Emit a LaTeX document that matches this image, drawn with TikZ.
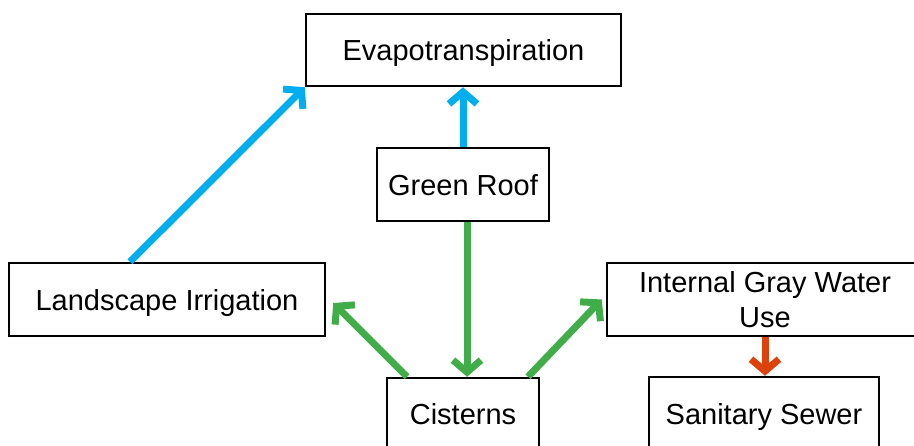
\documentclass[tikz,border=0pt]{standalone}
\usepackage{fontspec}
\setmainfont{Liberation Sans}
\usetikzlibrary{arrows.meta}
\definecolor{flowblue}{RGB}{0,174,239}
\definecolor{flowgreen}{RGB}{64,173,73}
\definecolor{flowred}{RGB}{221,65,12}
\tikzset{
  box/.style={draw=black, line width=2.5pt, inner sep=0pt, align=center,
    font=\fontsize{29}{35}\selectfont},
  oneline/.style={text height=21pt, text depth=0pt},
  flow/.style={line width=7pt, -{Straight Barb[length=12pt,width=28pt,line cap=butt]}},
}
\begin{document}
\begin{tikzpicture}[x=1pt,y=-1pt]
\useasboundingbox (0,0) rectangle (914,445);
\node[box, oneline, minimum width=315pt, minimum height=72pt] (evap) at (463.5,50) {Evapotranspiration};
\node[box, oneline, minimum width=172pt, minimum height=73pt] (roof) at (463,184.5) {Green Roof};
\node[box, oneline, minimum width=316pt, minimum height=73pt] (land) at (167,299.5) {Landscape Irrigation};
\node[box, minimum width=316pt, minimum height=73pt] (gray) at (765,299.5) {Internal Gray Water\\Use};
\node[box, oneline, minimum width=152pt, minimum height=72pt] (cist) at (463,414) {Cisterns};
\node[box, oneline, minimum width=230pt, minimum height=74pt] (sewer) at (764,414) {Sanitary Sewer};
\draw[flow, flowblue] ([xshift=-37pt]land.north) -- (evap.south west);
\draw[flow, flowblue] (roof.north) -- (roof.north |- evap.south);
\draw[flow, flowgreen] ([xshift=4pt]roof.south) -- ([xshift=4pt]cist.north);
\draw[flow, flowgreen] ([xshift=-56pt]cist.north) -- ([xshift=7pt,yshift=-3.5pt]land.east);
\draw[flow, flowgreen] ([xshift=65pt]cist.north) -- ([xshift=-4pt]gray.west);
\draw[flow, flowred] (gray.south) -- (gray.south |- sewer.north);
\end{tikzpicture}
\end{document}
